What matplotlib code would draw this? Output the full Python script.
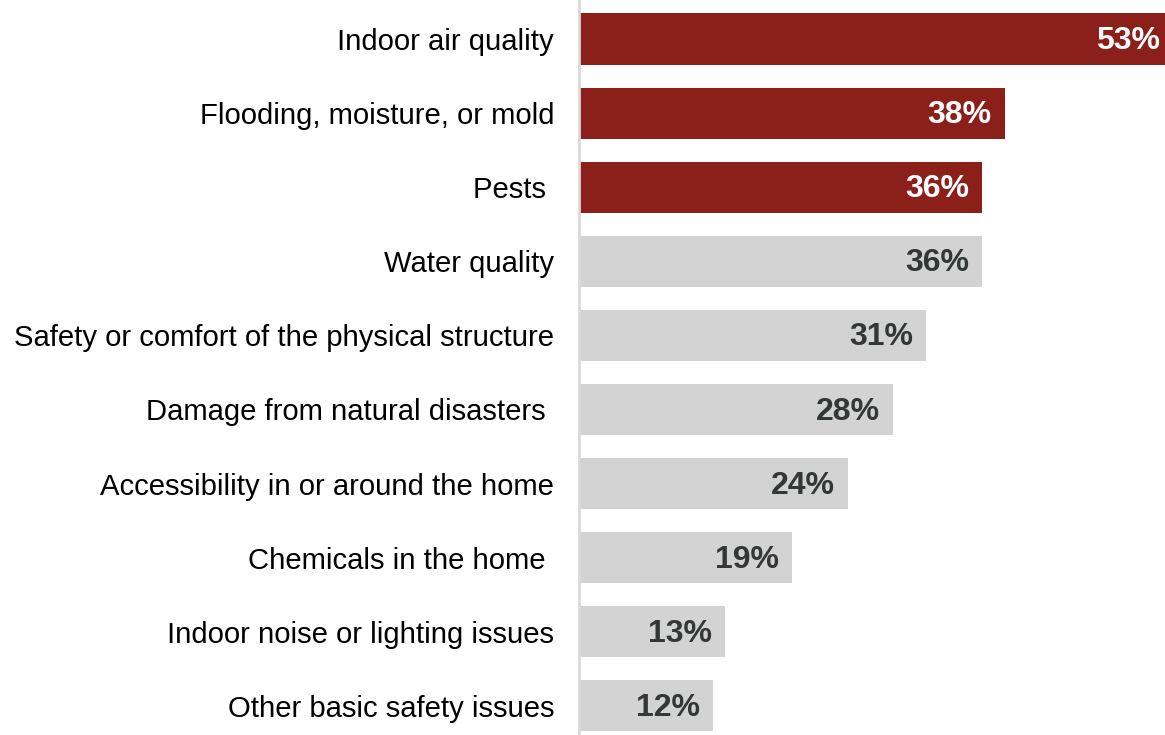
import matplotlib
matplotlib.use("Agg")
import matplotlib.pyplot as plt

categories = [
    "Indoor air quality",
    "Flooding, moisture, or mold",
    "Pests ",
    "Water quality",
    "Safety or comfort of the physical structure",
    "Damage from natural disasters ",
    "Accessibility in or around the home",
    "Chemicals in the home ",
    "Indoor noise or lighting issues",
    "Other basic safety issues",
]
values = [53, 38, 36, 36, 31, 28, 24, 19, 13, 12]
highlight = [True, True, True, False, False, False, False, False, False, False]

RED = "#8B1F1A"
GRAY = "#D3D3D3"

plt.rcParams['font.family'] = ['Liberation Sans', 'DejaVu Sans']

W, H = 1165, 735
fig = plt.figure(figsize=(W / 100, H / 100), dpi=100)
ax_left = 579 / W
ax_width = (W - 579) / W
ax = fig.add_axes([ax_left, 0, ax_width, 1])

n = len(categories)
ypos = list(range(n))
colors = [RED if h else GRAY for h in highlight]
ax.barh(ypos, values, height=0.69, color=colors, edgecolor='none')

px_per = 11.2
ax.set_xlim(0, (W - 579) / px_per)
pitch = 74.1
top_c = 39
ymin_data = -(top_c) / pitch
ymax_data = (H - top_c) / pitch
ax.set_ylim(ymax_data, ymin_data)

for y, v, h in zip(ypos, values, highlight):
    ax.annotate(f"{v}%", xy=(v, y), xytext=(-13, -2), textcoords='offset pixels',
                ha='right', va='center', fontsize=23, fontweight='bold',
                color='white' if h else '#333835', annotation_clip=False)

ax.set_yticks(ypos)
ax.set_yticklabels(categories, fontsize=21.1, color='black')
ax.tick_params(axis='y', length=0, pad=18)
ax.set_xticks([])
for s in ['top', 'right', 'bottom']:
    ax.spines[s].set_visible(False)
ax.spines['left'].set_color('#D9D9D9')
ax.spines['left'].set_linewidth(2)

fig.savefig("out.png", dpi=100)
